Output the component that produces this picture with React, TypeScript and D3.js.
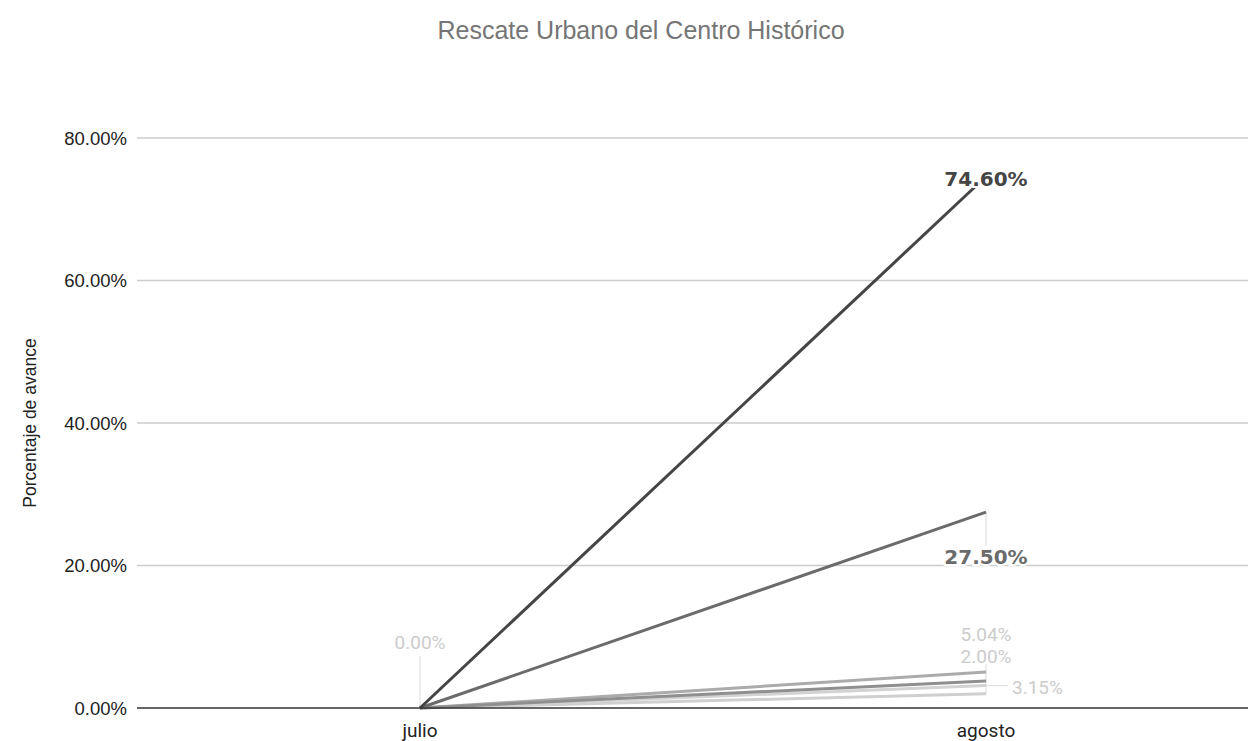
import * as d3 from "d3";
import { useRef, useEffect } from "react";

const months: string[] = ["julio", "agosto"];
// one series per project line, values in percent
const julioValues: number[] = [0, 0, 0, 0, 0, 0];
const agostoValues: number[] = [74.6, 27.5, 5.04, 3.8, 3.15, 2.0];
const seriesColors: string[] = ["#454545", "#6b6b6b", "#ababab", "#8f8f8f", "#d3d3d3", "#cfcfcf"];
const yTicks: number[] = [0, 20, 40, 60, 80];

export default function App() {
  const svgRef: any = useRef();

  useEffect(() => {
    const w: number = 1248;
    const h: number = 741;
    const svg = d3.select(svgRef.current).attr("width", w).attr("height", h);
    svg.selectAll("*").remove();

    const left = 137;
    const right = 1269;
    const top = 138;
    const bottom = 708;

    const xScale = d3.scalePoint().domain(months).range([left, right]).padding(0.5);
    const yScale = d3.scaleLinear().domain([0, 80]).range([bottom, top]);

    // title
    svg
      .append("text")
      .attr("x", 641)
      .attr("y", 39)
      .attr("text-anchor", "middle")
      .style("font-family", "Liberation Sans, Arial, sans-serif")
      .style("font-size", "25px")
      .style("fill", "#757575")
      .text("Rescate Urbano del Centro Histórico");

    // gridlines
    svg
      .append("g")
      .selectAll("line")
      .data(yTicks.filter((t) => t > 0))
      .join("line")
      .attr("x1", left)
      .attr("x2", w)
      .attr("y1", (d) => yScale(d))
      .attr("y2", (d) => yScale(d))
      .attr("stroke", "#cccccc")
      .attr("stroke-width", 1.3);

    // y axis labels
    svg
      .append("g")
      .selectAll("text")
      .data(yTicks)
      .join("text")
      .attr("x", 127)
      .attr("y", (d) => yScale(d) + 6.5)
      .attr("text-anchor", "end")
      .style("font-family", "Liberation Sans, Arial, sans-serif")
      .style("font-size", "18.5px")
      .style("fill", "#222")
      .text((d) => d.toFixed(2) + "%");

    svg
      .append("text")
      .attr("transform", `translate(36, ${yScale(40)}) rotate(-90)`)
      .attr("text-anchor", "middle")
      .style("font-family", "Liberation Sans, Arial, sans-serif")
      .style("font-size", "17.5px")
      .style("fill", "#222")
      .text("Porcentaje de avance");

    // x axis labels
    svg
      .append("g")
      .selectAll("text")
      .data(months)
      .join("text")
      .attr("x", (d) => xScale(d) as number)
      .attr("y", 737)
      .attr("text-anchor", "middle")
      .style("font-family", "Roboto, sans-serif")
      .style("font-size", "19px")
      .style("fill", "#222")
      .text((d) => d);

    // leader lines for labels
    const xj = xScale("julio") as number;
    const xa = xScale("agosto") as number;
    const leaders = svg.append("g").attr("stroke", "#e0e0e0").attr("stroke-width", 1.2);
    leaders.append("line").attr("x1", xj).attr("x2", xj).attr("y1", yScale(0) - 52).attr("y2", yScale(0));
    leaders.append("line").attr("x1", xa).attr("x2", xa).attr("y1", yScale(27.5)).attr("y2", yScale(27.5) + 34);
    leaders.append("line").attr("x1", xa).attr("x2", xa).attr("y1", yScale(5.04) - 8).attr("y2", yScale(2.0));
    leaders.append("line").attr("x1", xa).attr("x2", xa + 22).attr("y1", yScale(3.15)).attr("y2", yScale(3.15));

    // lines, drawn light ones first
    const line = d3
      .line<number>()
      .x((_, i) => xScale(months[i]) as number)
      .y((d) => yScale(d));
    const order = [5, 4, 2, 3, 1, 0];
    svg
      .append("g")
      .selectAll("path")
      .data(order)
      .join("path")
      .attr("d", (i) => line([julioValues[i], agostoValues[i]]))
      .attr("fill", "none")
      .attr("stroke", (i) => seriesColors[i])
      .attr("stroke-width", 3);

    // baseline
    svg
      .append("line")
      .attr("x1", left)
      .attr("x2", w)
      .attr("y1", yScale(0))
      .attr("y2", yScale(0))
      .attr("stroke", "#333")
      .attr("stroke-width", 1.5);

    // data labels
    const labels = svg.append("g");
    const big = (v: number, dy: number, color: string) =>
      labels
        .append("text")
        .attr("x", xa)
        .attr("y", yScale(v) + dy)
        .attr("text-anchor", "middle")
        .style("font-family", "DejaVu Sans, sans-serif")
        .style("font-weight", "bold")
        .style("font-size", "20px")
        .style("fill", color)
        .style("stroke", "#fff")
        .style("stroke-width", 4)
        .style("paint-order", "stroke")
        .text(v.toFixed(2) + "%");
    big(agostoValues[0], 10, "#454545");
    big(agostoValues[1], 52, "#6b6b6b");

    const small = (x: number, y: number, anchor: string, txt: string) =>
      labels
        .append("text")
        .attr("x", x)
        .attr("y", y)
        .attr("text-anchor", anchor)
        .style("font-family", "Roboto, sans-serif")
        .style("font-size", "19px")
        .style("fill", "#cccccc")
        .text(txt);
    small(xj, yScale(julioValues[0]) - 59, "middle", julioValues[0].toFixed(2) + "%");
    small(xa, yScale(agostoValues[2]) - 31, "middle", agostoValues[2].toFixed(2) + "%");
    small(xa, yScale(agostoValues[5]) - 31, "middle", agostoValues[5].toFixed(2) + "%");
    small(xa + 26, yScale(agostoValues[4]) + 8, "start", agostoValues[4].toFixed(2) + "%");
  }, []);

  return (
    <div style={{ position: "absolute", left: 0, top: 0, background: "#fff" }}>
      <svg ref={svgRef} style={{ display: "block" }}></svg>
    </div>
  );
}
